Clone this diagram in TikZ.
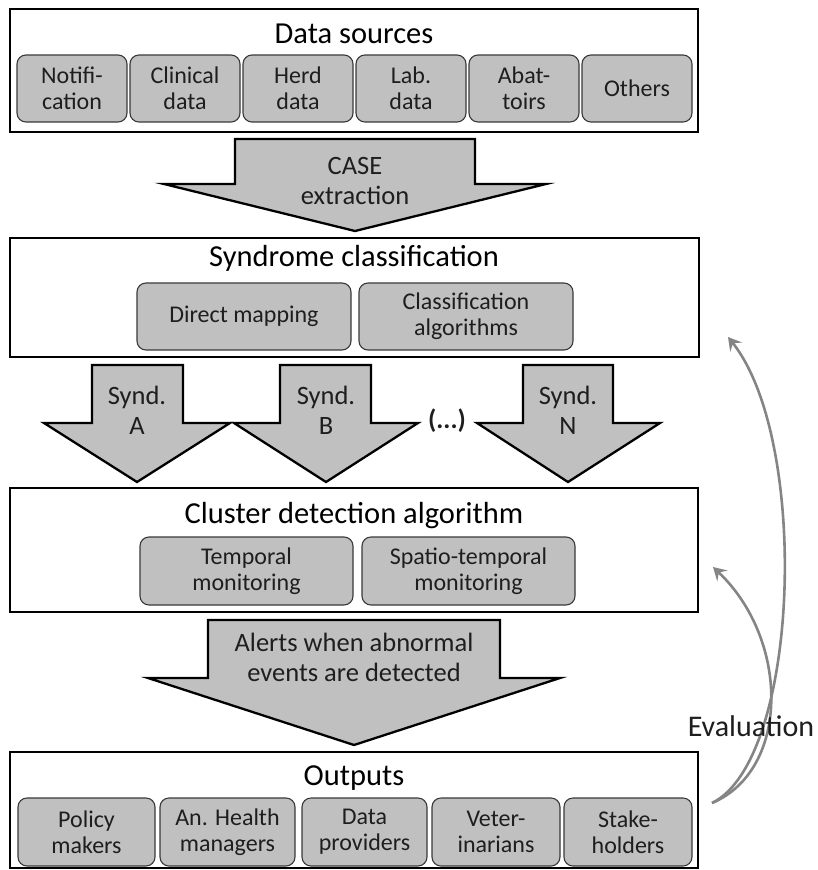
\documentclass[tikz,border=0pt]{standalone}
\usepackage{fontspec}
\setmainfont{Carlito}
\usetikzlibrary{arrows.meta}
\definecolor{boxgray}{HTML}{C0C0C0}
\definecolor{subedge}{HTML}{3A3A3A}
\definecolor{evgray}{HTML}{858585}
\definecolor{txt}{HTML}{1E1E1E}
\begin{document}
\begin{tikzpicture}[x=1pt,y=-1pt,
  outer/.style={draw=black,line width=2.8pt,fill=white,inner sep=0pt},
  sub/.style={draw=subedge,line width=1.1pt,fill=boxgray,rounded corners=9pt,
    align=center,inner sep=2pt,font=\fontsize{24}{26}\selectfont,text=txt},
  title/.style={anchor=base,font=\fontsize{30.5}{34}\selectfont,inner sep=0pt,text=black},
  blockarrow/.style={draw=black,line width=2.3pt,fill=boxgray,line join=miter},
  arrowtext/.style={align=center,inner sep=0pt,font=\fontsize{26.5}{30}\selectfont,text=txt},
  evarrow/.style={draw=evgray,line width=2.6pt,-{Stealth[length=13pt,width=15pt,inset=5pt]}}
]
\useasboundingbox (0,0) rectangle (817,870);

% ---------- Data sources ----------
\node[outer,minimum width=688pt,minimum height=123pt] (ds) at (354,70.5) {};
\node[title] (dst) at (354,43) {Data sources};
\node[sub,minimum width=110pt,minimum height=67pt] (s1) at (72,88.5) {Notifi-\\cation};
\node[sub,minimum width=110pt,minimum height=67pt] (s2) at (185,88.5) {Clinical\\data};
\node[sub,minimum width=110pt,minimum height=67pt] (s3) at (298,88.5) {Herd\\data};
\node[sub,minimum width=110pt,minimum height=67pt] (s4) at (411,88.5) {Lab.\\data};
\node[sub,minimum width=110pt,minimum height=67pt] (s5) at (524,88.5) {Abat-\\toirs};
\node[sub,minimum width=110pt,minimum height=67pt] (s6) at (637,88.5) {Others};

% ---------- CASE extraction arrow ----------
\draw[blockarrow] (235,139) -- (475,139) -- (475,184) -- (546,184) -- (355,231)
  -- (164,184) -- (235,184) -- cycle;
\node[arrowtext] (caset) at (355,181) {CASE\\extraction};

% ---------- Syndrome classification ----------
\node[outer,minimum width=689pt,minimum height=119pt] (sc) at (354.5,297.5) {};
\node[title] (sct) at (354,266) {Syndrome classification};
\node[sub,minimum width=214pt,minimum height=67pt] (dm) at (244,316.5) {Direct mapping};
\node[sub,minimum width=214pt,minimum height=67pt] (ca) at (466,316.5) {Classification\\algorithms};

% ---------- Syndrome arrows ----------
\draw[blockarrow] (92,365) -- (183,365) -- (183,423) -- (230,423) -- (137,482)
  -- (44,423) -- (92,423) -- cycle;
\node[arrowtext] (sa) at (137,410) {Synd.\\A};
\draw[blockarrow] (280,365) -- (371,365) -- (371,423) -- (418,423) -- (326,482)
  -- (234,423) -- (280,423) -- cycle;
\node[arrowtext] (sb) at (326,410) {Synd.\\B};
\draw[blockarrow] (523,365) -- (613,365) -- (613,423) -- (660,423) -- (568,482)
  -- (477,423) -- (523,423) -- cycle;
\node[arrowtext] (sn) at (568,410) {Synd.\\N};
\node[arrowtext,font=\fontsize{26.5}{30}\selectfont\bfseries] (dots) at (447,421) {(...)};

% ---------- Cluster detection ----------
\node[outer,minimum width=688pt,minimum height=124pt] (cd) at (354,550) {};
\node[title] (cdt) at (354,523) {Cluster detection algorithm};
\node[sub,minimum width=213pt,minimum height=68pt] (tm) at (246.5,571) {Temporal\\monitoring};
\node[sub,minimum width=213pt,minimum height=68pt] (stm) at (468.5,571) {Spatio-temporal\\monitoring};

% ---------- Alerts arrow ----------
\draw[blockarrow] (208,620) -- (500,620) -- (500,678) -- (560,678) -- (354,745)
  -- (148,678) -- (208,678) -- cycle;
\node[arrowtext] (al) at (354,657) {Alerts when abnormal\\events are detected};

% ---------- Outputs ----------
\node[outer,minimum width=688pt,minimum height=116pt] (op) at (354,810) {};
\node[title] (opt) at (354,785) {Outputs};
\node[sub,minimum width=137pt,minimum height=68pt] (o1) at (86.5,832) {Policy\\makers};
\node[sub,minimum width=135pt,minimum height=68pt] (o2) at (227.5,832) {An. Health\\managers};
\node[sub,minimum width=125pt,minimum height=68pt] (o3) at (364.5,832) {Data\\providers};
\node[sub,minimum width=128pt,minimum height=68pt] (o4) at (496,832) {Veter-\\inarians};
\node[sub,minimum width=128pt,minimum height=68pt] (o5) at (628,832) {Stake-\\holders};

% ---------- Evaluation ----------
\coordinate (evs) at (712,803);
\coordinate (evt1) at (728,337);
\coordinate (evt2) at (713,567);
\draw[evarrow] (evs) .. controls (800,760) and (810,440) .. (evt1);
\draw[evarrow] (evs) .. controls (790,770) and (790,640) .. (evt2);
\node[anchor=base,inner sep=0pt,font=\fontsize{30}{34}\selectfont,text=txt] (ev) at (751,736) {Evaluation};
\end{tikzpicture}
\end{document}
